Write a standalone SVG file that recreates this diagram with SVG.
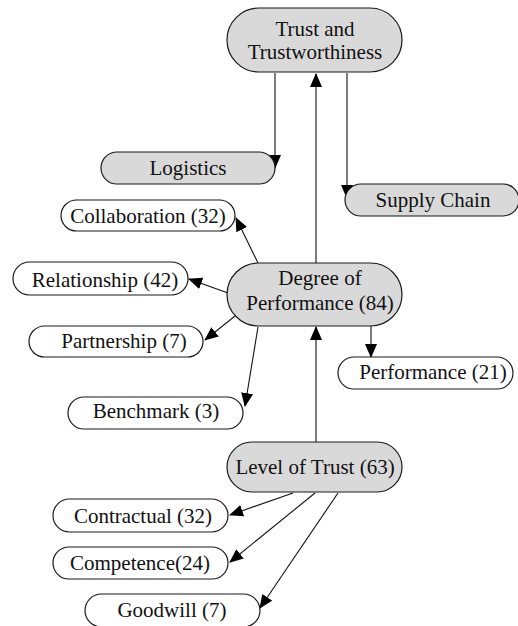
<svg xmlns="http://www.w3.org/2000/svg" width="518" height="626" viewBox="0 0 518 626">
<style>
.box{stroke:#1a1a1a;stroke-width:1.2}
.g{fill:#d9d9d9}
.w{fill:#ffffff}
text{font-family:'Liberation Serif','Times New Roman',Tinos,'DejaVu Serif',serif;font-size:21px;fill:#111;text-anchor:middle}
.c{stroke:#111;stroke-width:1.1;fill:none;marker-end:url(#ah)}
</style>
<defs>
<marker id="ah" markerUnits="userSpaceOnUse" markerWidth="14" markerHeight="12" viewBox="0 0 14 12" refX="13" refY="6" orient="auto">
<path d="M0,0 L14,6 L0,12 Z" fill="#000"/>
</marker>
</defs>
<rect width="518" height="626" fill="#fff"/>
<g id="connectors">
<path class="c" d="M275 73 V168"/>
<path class="c" d="M347 73 V198"/>
<path class="c" d="M316 263 V74"/>
<path class="c" d="M258 263 L236 218"/>
<path class="c" d="M228 293 L189 279"/>
<path class="c" d="M235 316 L205 340"/>
<path class="c" d="M258 327 L245 406"/>
<path class="c" d="M371 326 V357"/>
<path class="c" d="M316 442 V327"/>
<path class="c" d="M293 493 L230 515"/>
<path class="c" d="M315 493 L230 562"/>
<path class="c" d="M338 493 L260 608"/>
</g>
<g font-family="Liberation Serif, Times New Roman, serif">
<g id="trust">
<rect class="box g" x="227" y="8" width="175" height="64" rx="32"/>
<text x="315" y="36">Trust and</text>
<text x="315" y="59">Trustworthiness</text>
</g>
<g id="logistics">
<rect class="box g" x="101" y="152" width="174" height="32" rx="16"/>
<text x="188" y="175">Logistics</text>
</g>
<g id="supply">
<rect class="box g" x="345" y="184" width="174" height="32" rx="16"/>
<text x="433" y="207">Supply Chain</text>
</g>
<g id="collaboration">
<rect class="box w" x="61" y="200" width="174" height="31" rx="15.5"/>
<text x="148" y="223">Collaboration (32)</text>
</g>
<g id="relationship">
<rect class="box w" x="13" y="262" width="175" height="33" rx="16.5"/>
<text x="105" y="287">Relationship (42)</text>
</g>
<g id="partnership">
<rect class="box w" x="29" y="326" width="174" height="31" rx="15.5"/>
<text x="124" y="348">Partnership (7)</text>
</g>
<g id="benchmark">
<rect class="box w" x="68" y="397" width="175" height="32" rx="16"/>
<text x="156" y="418">Benchmark (3)</text>
</g>
<g id="degree">
<rect class="box g" x="227" y="263" width="175" height="63" rx="31.5"/>
<text x="320" y="285">Degree of</text>
<text x="320" y="310">Performance (84)</text>
</g>
<g id="performance">
<rect class="box w" x="338" y="357" width="175" height="32" rx="16"/>
<text x="433" y="379">Performance (21)</text>
</g>
<g id="level">
<rect class="box g" x="227" y="442" width="175" height="50" rx="25"/>
<text x="315" y="474">Level of Trust (63)</text>
</g>
<g id="contractual">
<rect class="box w" x="53" y="499" width="175" height="33" rx="16.5"/>
<text x="143" y="523">Contractual (32)</text>
</g>
<g id="competence">
<rect class="box w" x="53" y="547" width="175" height="32" rx="16"/>
<text x="140" y="570">Competence(24)</text>
</g>
<g id="goodwill">
<rect class="box w" x="85" y="594" width="175" height="33" rx="16.5"/>
<text x="172" y="617">Goodwill (7)</text>
</g>
</g>
</svg>
